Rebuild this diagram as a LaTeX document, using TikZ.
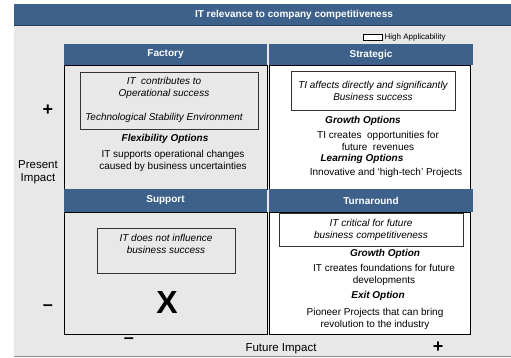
\documentclass[tikz,border=0pt]{standalone}
\usepackage{fontspec}
\setmainfont{Liberation Sans}
\usetikzlibrary{positioning,shadows}
\definecolor{hdrblue}{RGB}{61,97,138}
\definecolor{bggray}{RGB}{232,232,232}

\begin{document}
\begin{tikzpicture}[x=1pt,y=-1pt,
	hdr/.style={fill=hdrblue,text=white,font=\fontsize{10}{12}\selectfont\bfseries,inner sep=0,outer sep=0,anchor=north west,minimum height=21},
	panel/.style={draw=black,line width=0.9,inner sep=0,outer sep=0,anchor=north west,general shadow={fill=black!70,shadow xshift=1.2pt,shadow yshift=-1.2pt}},
	inbox/.style={draw=black!80,line width=0.8,align=center,inner sep=0,font=\fontsize{10}{12}\selectfont\itshape},
	txt/.style={align=center,inner sep=0,font=\fontsize{10}{12}\selectfont},
	opt/.style={txt,font=\fontsize{10}{12}\selectfont\bfseries\itshape},
	axis/.style={inner sep=0,font=\fontsize{18}{18}\selectfont\bfseries},
	axlbl/.style={align=center,inner sep=0,font=\fontsize{11.5}{12.5}\selectfont}]

	\useasboundingbox (0,0) rectangle (511,358);
	% background and title bar
	\fill[bggray] (14,25) rectangle (511,356);
	\draw[black!45,line width=1.2] (14,356.4) -- (511,356.4);
	\fill[hdrblue] (14,4) rectangle (511,25);
	\draw[hdrblue!60!black,line width=0.8] (14,25) -- (511,25);
	\node[inner sep=0,text=white,font=\fontsize{10}{12}\selectfont\bfseries] (title) at (294,15) {IT relevance to company competitiveness};

	% legend
	\node[draw=black,fill=white,line width=0.8,minimum width=19,minimum height=6,inner sep=0] (legbox) at (372.5,37) {};
	\node[inner sep=0,font=\fontsize{8}{9}\selectfont,right=2pt of legbox] (legtxt) {High Applicability};

	% quadrants
	\node[hdr,minimum width=203] (fachd) at (64,44) {Factory};
	\node[panel,fill=bggray,minimum width=203,minimum height=124] (facbody) at (fachd.south west) {};
	\node[hdr,minimum width=204,right=2pt of fachd] (strhd) {Strategic};
	\node[panel,fill=white,minimum width=201,minimum height=124] (strbody) at (strhd.south west) {};
	\node[hdr,minimum width=203,minimum height=23] (suphd) at (facbody.south west) {Support};
	\node[panel,fill=bggray,minimum width=203,minimum height=122] (supbody) at (suphd.south west) {};
	\node[hdr,minimum width=204,minimum height=23,right=2pt of suphd] (turhd) {Turnaround};
	\node[panel,fill=white,minimum width=201,minimum height=122] (turbody) at (turhd.south west) {};

	% Factory
	\node[inbox,minimum width=178,minimum height=57] (facbox) at (169,100.5) {};
	\node[txt,font=\fontsize{10}{12}\selectfont\itshape] (factxt) at (164,100) {IT~ contributes to\\Operational success\\[12pt]Technological Stability Environment};
	\node[opt] (facopt) at (165,139) {Flexibility Options};
	\node[txt] (facdesc) at (173,161) {IT supports operational changes\\caused by business uncertainties};

	% Strategic
	\node[inbox,minimum width=164,minimum height=39] (strbox) at (373,90.5) {TI affects directly and significantly\\Business success};
	\node[opt] (strgrow) at (363,121) {Growth Options};
	\node[txt] (strgrowtxt) at (378,140.5) {TI creates~ opportunities for\\future~ revenues};
	\node[opt] (strlearn) at (362,159) {Learning Options};
	\node[txt] (strlearntxt) at (386,173) {Innovative and ‘high-tech’ Projects};

	% Support
	\node[inbox,minimum width=138,minimum height=45] (supbox) at (166,250.5) {};
	\node[txt,font=\fontsize{10}{12}\selectfont\itshape] (suptxt) at (166,244) {IT does not influence\\business success};
	\node[inner sep=0,font=\fontsize{32}{32}\selectfont\bfseries] (supx) at (167,302) {X};

	% Turnaround
	\node[inbox,minimum width=184,minimum height=33] (turbox) at (371,229.5) {IT critical for future\\business competitiveness};
	\node[opt] (turgrow) at (385,254) {Growth Option};
	\node[txt] (turgrowtxt) at (384,274.5) {IT creates foundations for future\\developments};
	\node[opt] (turexit) at (378,296) {Exit Option};
	\node[txt] (turexittxt) at (375,319) {Pioneer Projects that can bring\\revolution to the industry};

	% axes
	\node[axis] (pplus) at (48,110) {+};
	\node[axis] (pminus) at (48,308) {–};
	\node[axlbl] (present) at (38,172) {Present\\Impact};
	\node[axis] (fminus) at (129,341) {–};
	\node[axlbl] (future) at (281,349) {Future Impact};
	\node[axis] (fplus) at (438,347) {+};
\end{tikzpicture}
\end{document}
